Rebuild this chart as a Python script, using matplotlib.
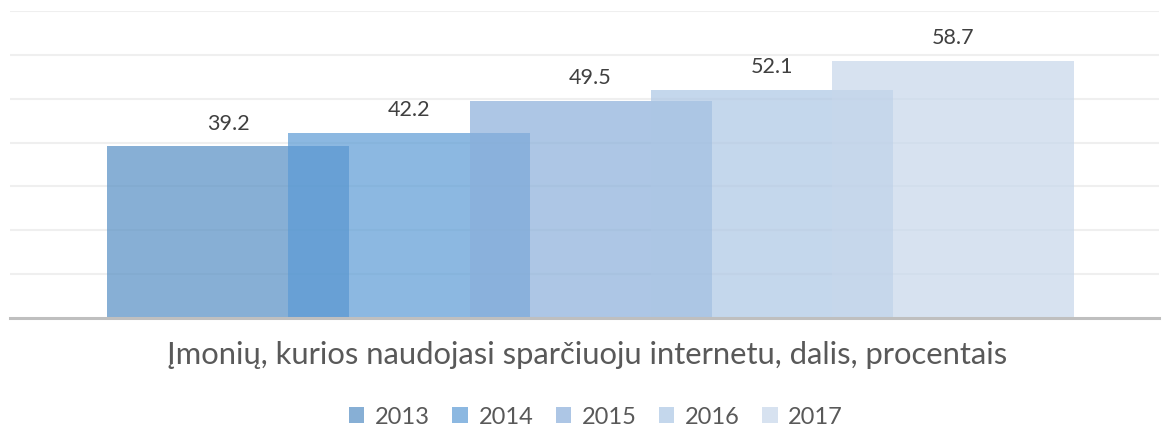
import matplotlib
matplotlib.use("Agg")
import matplotlib.pyplot as plt
import numpy as np

# data
years = ["2013", "2014", "2015", "2016", "2017"]
values = [39.2, 42.2, 49.5, 52.1, 58.7]
colors = ["#558EC4", "#5B9BD5", "#8AAFDA", "#ACC6E4", "#C7D7EB"]
title = "Įmonių, kurios naudojasi sparčiuoju internetu, dalis, procentais"

plt.rcParams["font.family"] = ["Lato", "DejaVu Sans"]

fig = plt.figure(figsize=(11.69, 4.30), dpi=100)
W, H = 1169, 430
ax = fig.add_axes([10 / W, (H - 318) / H, 1149 / W, 307 / H])

x = np.arange(len(years))
step = 181.25
width = 242 / step
for xi, v, c, y in zip(x, values, colors, years):
    ax.bar(xi, v, width=width, color=c, alpha=0.7, label=y, zorder=2, linewidth=0)
    ax.annotate(f"{v:.1f}", (xi, v), xytext=(0, 9), textcoords="offset points",
                ha="center", va="bottom", fontsize=15.5, color="#404040")

ax.set_xlim((10 - 228) / step, (1159 - 228) / step)
ax.set_ylim(0, 70)
ax.set_yticks(np.arange(10, 71, 10))
ax.yaxis.grid(True, color="#EFEFEF", linewidth=1.5, zorder=0)
ax.set_axisbelow(True)
for s in ["top", "right", "left"]:
    ax.spines[s].set_visible(False)
ax.spines["bottom"].set_color("#BFBFBF")
ax.spines["bottom"].set_linewidth(2.2)
ax.spines["bottom"].set_zorder(3)
ax.tick_params(left=False, bottom=False, labelleft=False, labelbottom=False)

fig.text(587 / W, (H - 355) / H, title, ha="center", va="center",
         fontsize=22.3, color="#595959")

fig.legend(loc="center", bbox_to_anchor=(596 / W, (H - 417) / H), ncol=5,
           frameon=False, fontsize=17, labelcolor="#595959",
           handlelength=0.65, handleheight=0.65, handletextpad=0.45,
           columnspacing=0.95)

fig.savefig("out.png", dpi=100, facecolor="white")
